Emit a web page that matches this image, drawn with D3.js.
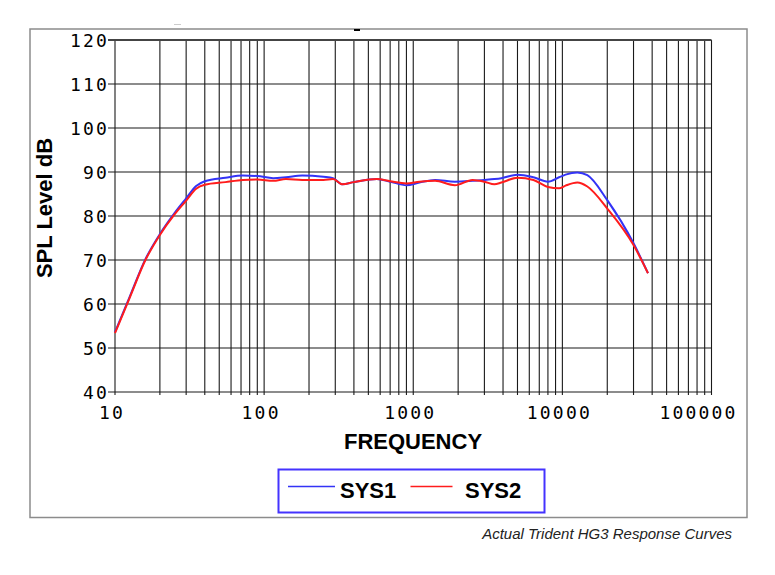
<!DOCTYPE html>
<html lang="en">
<head>
<meta charset="UTF-8">
<title>Trident HG3 Response Curves</title>
<script src="https://d3js.org/d3.v7.min.js"></script>
<style>
  body { margin: 0; background: #fff; }
  .mono { font-family: "DejaVu Sans Mono", monospace; font-size: 18px; letter-spacing: 2.2px; fill: #000; }
  .bold { font-family: "Liberation Sans", Arial, sans-serif; font-weight: bold; fill: #000; }
</style>
</head>
<body>
<svg id="chart" width="775" height="575"></svg>
<script>
// frequency points (Hz) shared by both curves
let freq = [10, 12.5, 16, 20, 25, 30, 35, 40, 55, 72, 90, 115, 140, 180, 250, 290, 335, 400, 570, 700,
            900, 1100, 1400, 1900, 2500, 3000, 3500, 3900, 5000, 6400, 8000, 9500, 10500, 12600, 14700,
            20000, 30000, 37500];
let sys1 = [53.6, 61.5, 70.2, 75.9, 80.6, 84.0, 86.8, 87.9, 88.7, 89.2, 89.1, 88.6, 88.8, 89.2, 88.9, 88.6, 87.2, 87.7, 88.4, 87.8,
            87.0, 87.6, 88.2, 87.8, 88.0, 88.2, 88.4, 88.6, 89.4, 88.8, 87.8, 88.8, 89.4, 89.9, 89.3,
            83.6, 73.8, 67.0];
let sys2 = [53.4, 61.3, 70.0, 75.7, 80.3, 83.5, 86.2, 87.1, 87.7, 88.2, 88.3, 88.0, 88.4, 88.2, 88.2, 88.4, 87.2, 87.7, 88.4, 87.9,
            87.4, 87.8, 88.0, 87.0, 88.2, 87.8, 87.2, 87.6, 88.7, 88.2, 86.6, 86.3, 86.9, 87.6, 86.7,
            81.7, 73.4, 67.0];
let yTicks = [40, 50, 60, 70, 80, 90, 100, 110, 120];
let xLabels = [10, 100, 1000, 10000, 100000];
let seriesNames = ['SYS1', 'SYS2'];
let colors = ['#3333f6', '#ff1c1c'];

let svg = d3.select('#chart');

let x = d3.scaleLog().domain([10, 100000]).range([115, 711.5]);
let y = d3.scaleLinear().domain([40, 120]).range([392, 40]);

// outer frame
svg.append('rect').attr('x', 30).attr('y', 29).attr('width', 717).attr('height', 488.5)
    .attr('fill', 'none').attr('stroke', '#8c8c8c').attr('stroke-width', 1.5);
svg.append('line').attr('x1', 174).attr('x2', 181).attr('y1', 24.5).attr('y2', 24.5)
    .attr('stroke', '#ccc').attr('stroke-width', 1);
svg.append('line').attr('x1', 354).attr('x2', 360).attr('y1', 30).attr('y2', 30)
    .attr('stroke', '#000').attr('stroke-width', 2);

// vertical grid (every 1..9 of each decade)
let g = svg.append('g');
g.selectAll('line.vx')
    .data(x.ticks())
    .join('line')
    .attr('class', 'vx')
    .attr('x1', d => x(d)).attr('x2', d => x(d))
    .attr('y1', y(120)).attr('y2', y(40) + 3)
    .attr('stroke', '#1a1a1a').attr('stroke-width', 1.1);

// horizontal grid
g.selectAll('line.hy')
    .data(yTicks)
    .join('line')
    .attr('class', 'hy')
    .attr('x1', x(10) - 7).attr('x2', x(100000))
    .attr('y1', d => y(d)).attr('y2', d => y(d))
    .attr('stroke', d => d == 120 ? '#444' : '#1a1a1a')
    .attr('stroke-width', d => d == 120 ? 1.8 : 1.1);

// y labels
svg.selectAll('text.yl')
    .data(yTicks)
    .join('text')
    .attr('class', 'mono')
    .attr('x', x(10) - 6)
    .attr('y', d => y(d) + 6.5)
    .attr('text-anchor', 'end')
    .text(d => d);

// x labels
svg.selectAll('text.xl')
    .data(xLabels)
    .join('text')
    .attr('class', 'mono')
    .attr('x', (d, i) => i == xLabels.length - 1 ? x(d) - 13 : x(d) - 3)
    .attr('y', 419)
    .attr('text-anchor', 'middle')
    .text(d => d);

// axis titles
svg.append('text').attr('class', 'bold').attr('font-size', 22)
    .attr('x', 413).attr('y', 449).attr('text-anchor', 'middle').text('FREQUENCY');
svg.append('text').attr('class', 'bold').attr('font-size', 22)
    .attr('transform', 'translate(52,208) rotate(-90)')
    .attr('text-anchor', 'middle').text('SPL Level dB');

// curves
let line = d3.line()
    .x((d, i) => x(freq[i]))
    .y(d => y(d))
    .curve(d3.curveMonotoneX);

svg.selectAll('path.curve')
    .data([sys1, sys2])
    .join('path')
    .attr('class', 'curve')
    .attr('d', line)
    .attr('fill', 'none')
    .attr('stroke', (d, i) => colors[i])
    .attr('stroke-width', 2);

// legend
svg.append('rect').attr('x', 278.5).attr('y', 469.5).attr('width', 266).attr('height', 43)
    .attr('fill', 'none').attr('stroke', '#4433ff').attr('stroke-width', 2);
let legX = [[288, 335, 340], [410.5, 452.5, 465]];
seriesNames.forEach((name, i) => {
    svg.append('line').attr('x1', legX[i][0]).attr('x2', legX[i][1])
        .attr('y1', 486.5).attr('y2', 486.5)
        .attr('stroke', colors[i]).attr('stroke-width', 1.5);
    svg.append('text').attr('class', 'bold').attr('font-size', 22)
        .attr('x', legX[i][2]).attr('y', 497.5).text(name);
});

// caption
svg.append('text')
    .attr('x', 732).attr('y', 538.5).attr('text-anchor', 'end')
    .style('font-family', '"Liberation Sans", Arial, sans-serif')
    .style('font-style', 'italic').style('font-size', '15px').style('fill', '#222')
    .text('Actual Trident HG3 Response Curves');
</script>
</body>
</html>
